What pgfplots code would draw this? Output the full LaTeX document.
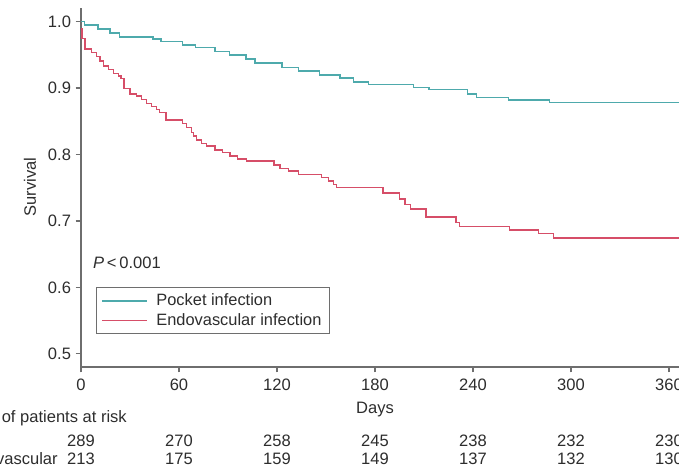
\documentclass[border=0pt]{standalone}
\usepackage{fontspec}
\setmainfont{Liberation Sans}
\usepackage{pgfplots}
\pgfplotsset{compat=1.18}
\definecolor{pocket}{RGB}{78,170,172}
\definecolor{endo}{RGB}{214,78,104}
\definecolor{axgray}{RGB}{110,110,110}
\definecolor{txt}{RGB}{45,45,45}
\tikzset{lbl/.style={font=\fontsize{12.4}{14}\selectfont, text=txt, inner sep=0pt}}

\begin{document}
\begin{tikzpicture}
\begin{axis}[
  scale only axis, width=448.35pt, height=268.95pt,
  xmin=0, xmax=366, ymin=0.48, ymax=1.02,
  axis lines=left, axis line style={-, axgray, line width=1pt},
  xtick={0,60,120,180,240,300,360},
  ytick={0.5,0.6,0.7,0.8,0.9,1.0},
  yticklabel style={/pgf/number format/fixed, /pgf/number format/fixed zerofill, /pgf/number format/precision=1},
  xticklabel style={yshift=-1.5pt},
  /pgf/number format/assume math mode=true,
  tick align=outside, major tick length=4pt,
  tick style={axgray, line width=0.9pt},
  tick label style={font=\fontsize{12.4}{14}\selectfont, text=txt},
  clip=false,
  legend style={at={(axis cs:9.2,0.6)}, anchor=north west, draw=axgray,
    line width=0.8pt, font=\fontsize{12.3}{13.5}\selectfont, text=txt,
    inner xsep=3.75pt, inner ysep=2.6pt, row sep=0pt,
    /tikz/every odd column/.append style={column sep=4.5pt}},
  legend cell align=left,
  legend image code/.code={\draw[#1, line width=0.9pt] (9pt,0pt) -- (42.75pt,0pt);},
]
\addplot[pocket, line width=1.05pt, const plot] coordinates {
  (0,1.0)(2,0.995)(10.4,0.989)(17.8,0.983)(23.5,0.977)(44,0.974)(49,0.970)
  (62,0.965)(70,0.961)(82,0.955)(91,0.950)(101,0.944)(106.5,0.938)(123,0.931)
  (133,0.926)(146,0.920)(158.6,0.915)(167,0.909)(176,0.905)(203.5,0.901)
  (213,0.898)(236.5,0.891)(242,0.886)(261.6,0.882)(286.7,0.878)(366,0.878)};
\addlegendentry{Pocket infection}
\addplot[endo, line width=1.05pt, const plot] coordinates {
  (0,0.99)(0.5,0.975)(2.5,0.959)(6.5,0.954)(9.6,0.948)(11.6,0.941)(13.7,0.933)
  (16.7,0.928)(19.8,0.922)(22.9,0.918)(24.5,0.914)(26.3,0.899)(30,0.891)
  (34.1,0.888)(37.1,0.883)(40.2,0.877)(43.3,0.872)(46.3,0.868)(48,0.863)
  (52,0.852)(62.2,0.847)(64.7,0.841)(67.8,0.833)(68.8,0.828)(70.8,0.822)
  (73.9,0.817)(77,0.813)(82,0.807)(86.7,0.803)(91.2,0.798)(95.7,0.793)
  (101.4,0.790)(118.2,0.784)(121.8,0.779)(126.9,0.775)(133,0.770)(147.4,0.765)
  (151.4,0.760)(154.5,0.755)(156.5,0.750)(185,0.742)(195,0.733)(198.4,0.725)
  (201.9,0.718)(211.2,0.706)(229.6,0.698)(231.6,0.692)(262.2,0.686)(280,0.681)
  (289.2,0.674)(366,0.674)};
\addlegendentry{Endovascular infection}

% labels
\node[rotate=90, lbl] at (axis cs:-31.2,0.751) {Survival};
\node[anchor=base, lbl] at (axis cs:180,0.4104) {Days};
\node[anchor=base west, lbl] at (axis cs:7.3,0.6283) {\textit{P}\,<\,0.001};

% numbers at risk
\node[anchor=base east, lbl] at (axis cs:28.2,0.397) {Number of patients at risk};
\node[anchor=base east, lbl] at (axis cs:-52,0.361) {Pocket};
\node[anchor=base east, lbl] at (axis cs:-14.1,0.3336) {Endovascular};
\node[anchor=base, lbl] at (axis cs:0,0.361) {289};
\node[anchor=base, lbl] at (axis cs:60,0.361) {270};
\node[anchor=base, lbl] at (axis cs:120,0.361) {258};
\node[anchor=base, lbl] at (axis cs:180,0.361) {245};
\node[anchor=base, lbl] at (axis cs:240,0.361) {238};
\node[anchor=base, lbl] at (axis cs:300,0.361) {232};
\node[anchor=base, lbl] at (axis cs:360,0.361) {230};
\node[anchor=base, lbl] at (axis cs:0,0.3336) {213};
\node[anchor=base, lbl] at (axis cs:60,0.3336) {175};
\node[anchor=base, lbl] at (axis cs:120,0.3336) {159};
\node[anchor=base, lbl] at (axis cs:180,0.3336) {149};
\node[anchor=base, lbl] at (axis cs:240,0.3336) {137};
\node[anchor=base, lbl] at (axis cs:300,0.3336) {132};
\node[anchor=base, lbl] at (axis cs:360,0.3336) {130};
\end{axis}
\pgfresetboundingbox
\useasboundingbox (-60.75pt,-75pt) rectangle (448.5pt,275.25pt);
\end{tikzpicture}
\end{document}
